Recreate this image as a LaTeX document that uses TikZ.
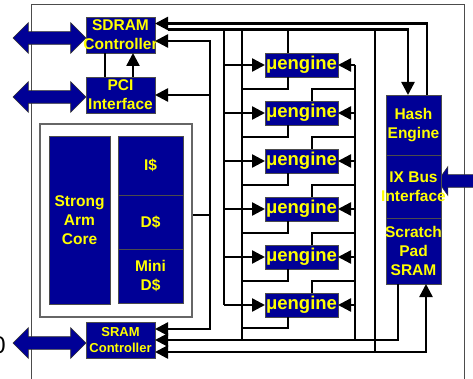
\documentclass[tikz,border=0pt]{standalone}
\usepackage{fontspec}
\setmainfont{Liberation Sans}
\usepackage{tikz}
\usetikzlibrary{shapes.arrows, arrows.meta, positioning}
\definecolor{ixpblue}{RGB}{0,0,150}
\definecolor{ixpyellow}{RGB}{255,255,0}
\newcommand{\squeeze}[1]{\makebox[0pt]{#1}}
\tikzstyle{block} = [rectangle, draw=gray!60!black, line width=0.8pt, fill=ixpblue, text=ixpyellow, font=\fontsize{15.5}{19}\selectfont\bfseries, align=center, inner sep=0pt, outer sep=0pt]
\tikzstyle{ctrl} = [block, minimum width=69pt, minimum height=36pt]
\tikzstyle{engine} = [block, minimum width=73pt, minimum height=24pt, font=\fontsize{18.5}{22}\selectfont\bfseries]
\tikzstyle{port} = [double arrow, draw=black!80, line width=0.6pt, fill=ixpblue, inner xsep=0pt, inner ysep=6pt, minimum height=73pt, double arrow head extend=9pt]
\tikzstyle{wire} = [line width=2.4pt, black]
\tikzstyle{arrow} = [wire, -{Triangle[length=13pt, width=13pt]}]
\tikzstyle{biarrow} = [wire, {Triangle[length=13pt, width=13pt]}-{Triangle[length=13pt, width=13pt]}]

\begin{document}
\begin{tikzpicture}[x=1pt, y=-1pt]
    \useasboundingbox (0,0) rectangle (473,379);
    % chip outline
    \draw [black!70, line width=1pt] (31,379) -- (31,5) -- (464,5) -- (464,379);

    % off-chip ports
    \node (dramport) [port] at (49.5,38) {};
    \node (pciport) [port] at (49.5,97) {};
    \node (sramport) [port] at (49.5,343) {};
    \node (ixport) [single arrow, shape border rotate=180, draw=black!80, line width=0.6pt, fill=ixpblue, inner xsep=0pt, inner ysep=6pt, minimum height=42pt, single arrow head extend=8pt, single arrow tip angle=110] at (461,181) {};
    \node (cut) [anchor=east, inner sep=0pt, font=\fontsize{24}{24}\selectfont] at (6,345) {0};

    % controllers
    \node (sdram) [ctrl] at (120.5,35) {SDRAM\\\squeeze{Controller}};
    \node (pci) [ctrl] at (120.5,95) {PCI\\\squeeze{Interface}};
    \node (sram) [ctrl, font=\fontsize{13}{16}\selectfont\bfseries] at (120.5,340) {SRAM\\\squeeze{Controller}};

    % strongarm core with caches
    \node (armbox) [rectangle, draw=gray!80!black, line width=1.5pt, fill=white, minimum width=152pt, minimum height=193pt] at (116,220.5) {};
    \node (core) [block, minimum width=61pt, minimum height=168pt] at (79.5,220) {Strong\\Arm\\Core};
    \node (icache) [block, minimum width=65pt, minimum height=59pt] at (150.5,165.5) {I\$};
    \node (dcache) [block, minimum width=65pt, minimum height=54pt, below=0pt of icache] {D\$};
    \node (minicache) [block, minimum width=65pt, minimum height=54pt, below=0pt of dcache] {Mini\\D\$};

    % microengines
    \node (ue1) [engine] at (301.5,65) {μengine};
    \node (ue2) [engine, below=24pt of ue1] {μengine};
    \node (ue3) [engine, below=24pt of ue2] {μengine};
    \node (ue4) [engine, below=24pt of ue3] {μengine};
    \node (ue5) [engine, below=24pt of ue4] {μengine};
    \node (ue6) [engine, below=24pt of ue5] {μengine};

    % hash / ix bus / scratch column
    \node (hash) [block, minimum width=55pt, minimum height=60pt] at (413.5,125) {Hash\\Engine};
    \node (ixbus) [block, minimum width=55pt, minimum height=63pt, below=0pt of hash] {IX Bus\\\squeeze{Interface}};
    \node (scratch) [block, minimum width=55pt, minimum height=66pt, below=0pt of ixbus] {\squeeze{Scratch}\\Pad\\SRAM};

    % bus rails
    \coordinate (railarm) at (210,41);
    \coordinate (armlow) at (210,329);
    \coordinate (armtap) at (210,215);
    \coordinate (railin) at (224,29.5);
    \coordinate (railout) at (242,29.5);
    \coordinate (railback) at (355,65);
    \coordinate (railpad) at (375,29.5);
    \coordinate (dramjoin) at (168,29.5);
    \coordinate (hashin) at (408,29.5);
    \coordinate (hashout) at (427,23.5);
    \coordinate (padout) at (398,340);
    \coordinate (padin) at (426,352);
    \coordinate (pcilink) at (105,0);
    \coordinate (pciup) at (133,0);
    \coordinate (uetap) at (288,0);
    \coordinate (uefeed) at (312,0);

    \draw [arrow] (hash.north -| hashout) -- (hashout) -- (sdram.east |- hashout);
    \draw [arrow] (dramjoin) -- (hashin) -- (hash.north -| hashin);
    \draw [biarrow] (sdram.east |- railarm) -- (railarm) -- (armlow) -- (sram.east |- armlow);
    \draw [arrow] (railarm |- pci.east) -- (pci.east);
    \draw [wire] (armbox.east |- armtap) -- (armtap);
    \draw [wire] (pci.north -| pcilink) -- (sdram.south -| pcilink);
    \draw [arrow] (pci.north -| pciup) -- (sdram.south -| pciup);
    \draw [wire] (railin) -- (railin |- ue6.west);
    \draw [wire] (railout) -- (railout |- padout);
    \draw [wire] (railback) -- (railback |- padout);
    \draw [wire] (railpad) -- (railpad |- padin);
    \draw [arrow] (scratch.south -| padout) -- (padout) -- (sram.east |- padout);
    \draw [biarrow] (sram.east |- padin) -- (padin) -- (scratch.south -| padin);

    % microengine taps
    \draw [wire] (ue1.north -| uetap) -- (uetap |- railin);
    \draw [arrow] (railin |- ue1.west) -- (ue1.west);
    \draw [arrow] (railback |- ue1.east) -- (ue1.east);
    \draw [wire] (ue1.south -| uetap) |- ([yshift=-12pt]ue1.south -| railout);
    \draw [wire] (ue2.north -| uefeed) |- ([yshift=12pt]ue2.north -| railback);
    \draw [arrow] (railin |- ue2.west) -- (ue2.west);
    \draw [arrow] (railback |- ue2.east) -- (ue2.east);
    \draw [wire] (ue2.south -| uetap) |- ([yshift=-12pt]ue2.south -| railout);
    \draw [wire] (ue3.north -| uefeed) |- ([yshift=12pt]ue3.north -| railback);
    \draw [arrow] (railin |- ue3.west) -- (ue3.west);
    \draw [arrow] (railback |- ue3.east) -- (ue3.east);
    \draw [wire] (ue3.south -| uetap) |- ([yshift=-12pt]ue3.south -| railout);
    \draw [wire] (ue4.north -| uefeed) |- ([yshift=12pt]ue4.north -| railback);
    \draw [arrow] (railin |- ue4.west) -- (ue4.west);
    \draw [arrow] (railback |- ue4.east) -- (ue4.east);
    \draw [wire] (ue4.south -| uetap) |- ([yshift=-12pt]ue4.south -| railout);
    \draw [wire] (ue5.north -| uefeed) |- ([yshift=12pt]ue5.north -| railback);
    \draw [arrow] (railin |- ue5.west) -- (ue5.west);
    \draw [arrow] (railback |- ue5.east) -- (ue5.east);
    \draw [wire] (ue5.south -| uetap) |- ([yshift=-12pt]ue5.south -| railout);
    \draw [wire] (ue6.north -| uefeed) |- ([yshift=12pt]ue6.north -| railback);
    \draw [arrow] (railin |- ue6.west) -- (ue6.west);
    \draw [arrow] (railback |- ue6.east) -- (ue6.east);
    \draw [wire] (ue6.south -| uetap) |- ([yshift=-11pt]ue6.south -| railout);
\end{tikzpicture}
\end{document}
